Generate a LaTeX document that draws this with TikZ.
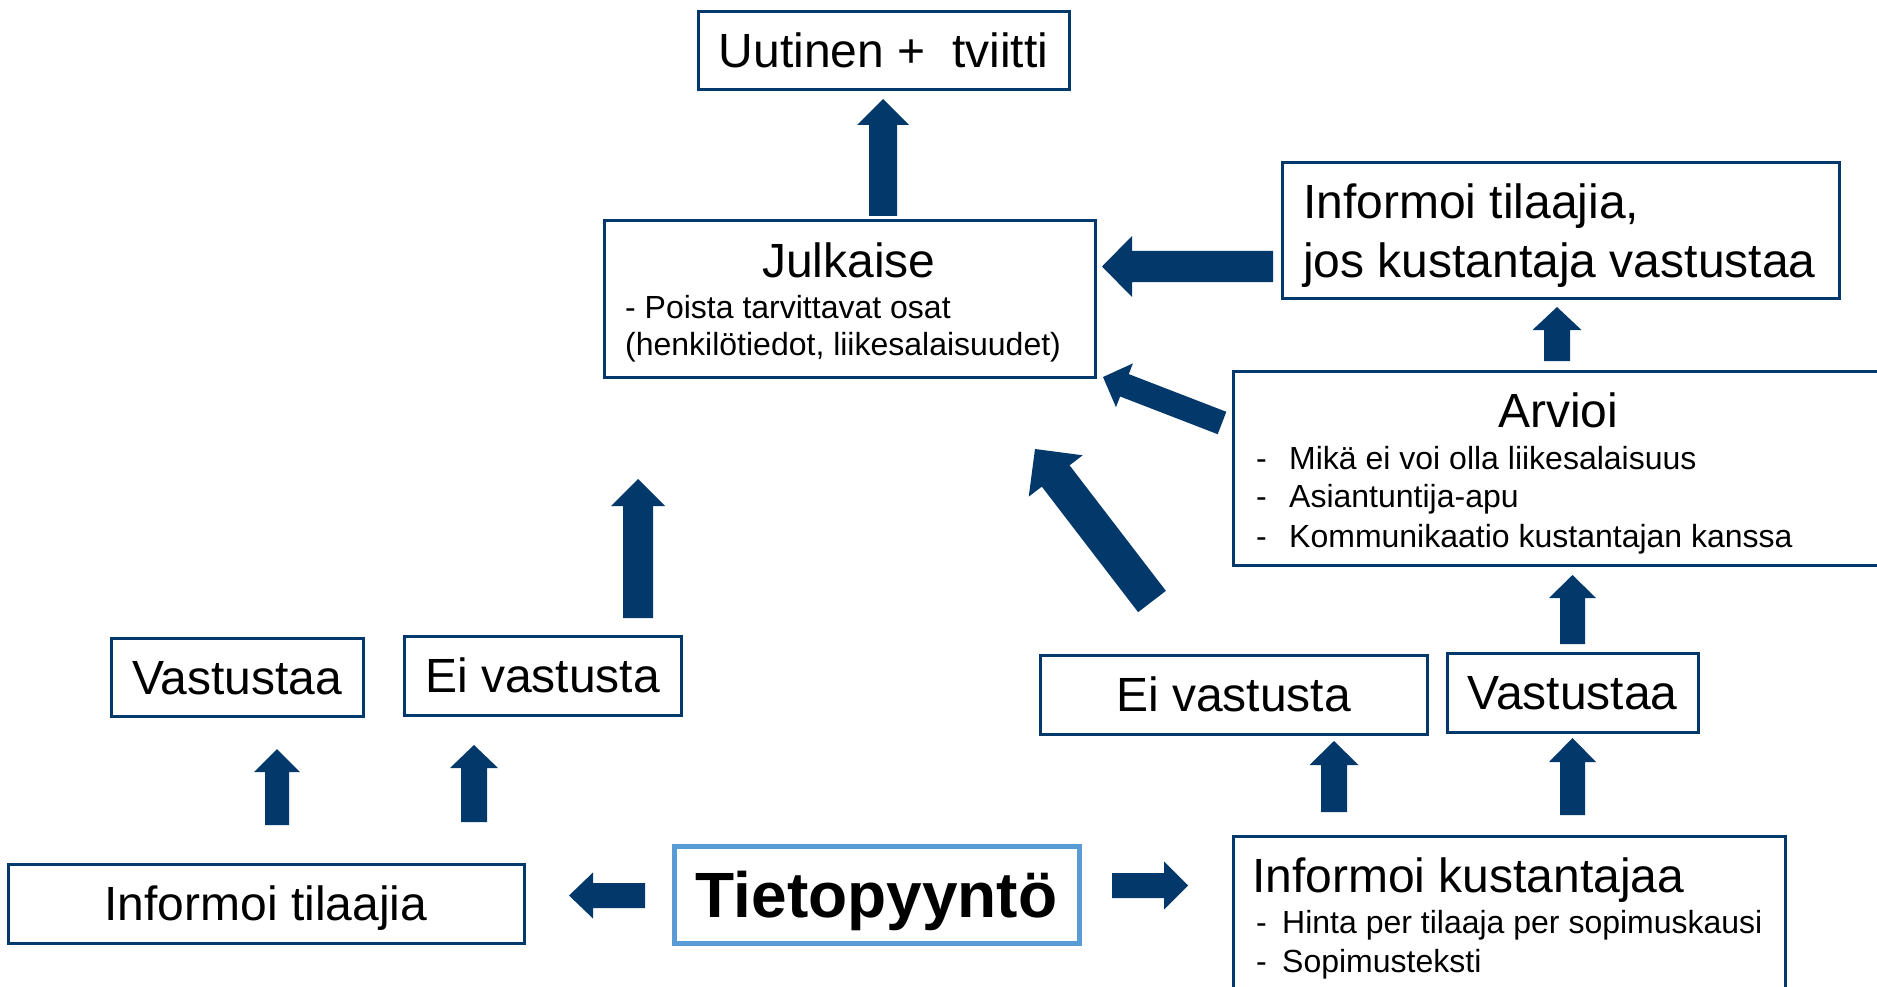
\documentclass[tikz,border=0pt]{standalone}
\usepackage{fontspec}
\setmainfont{Liberation Sans}
\usetikzlibrary{calc}
\definecolor{navy}{RGB}{3,56,106}
\definecolor{lblue}{RGB}{91,155,213}
\newcommand\bigf{\fontsize{48}{57}\selectfont}
\newcommand\smallf{\fontsize{32}{37}\selectfont}
\newcommand\tietf{\fontsize{64}{70}\selectfont\bfseries}
% #1 tail coordinate, #2 tip coordinate, #3 half shaft width, #4 half head width, #5 head length
\newcommand\blockarrow[5]{%
  \coordinate (ba-h) at ($(#2)!#5!(#1)$);
  \fill[navy] ($(#1)!#3!90:(#2)$) -- ($(ba-h)!#3!90:(#2)$) -- ($(ba-h)!#4!90:(#2)$) -- (#2)
    -- ($(ba-h)!#4!-90:(#2)$) -- ($(ba-h)!#3!-90:(#2)$) -- ($(#1)!#3!-90:(#2)$) -- cycle;
}
\begin{document}
\begin{tikzpicture}[x=1pt,y=-1pt,
  box/.style={draw=navy, line width=3pt, fill=white, inner sep=0pt},
  lbl/.style={box, font=\bigf, text height=34pt, text depth=0pt},
  txt/.style={inner sep=0pt},
  bigtxt/.style={txt, font=\bigf},
  smtxt/.style={txt, font=\smallf}]
\useasboundingbox (0,0) rectangle (1877,987);
\clip (0,0) rectangle (1877,987);

% boxes
\node[lbl, minimum width=371pt, minimum height=78pt] (uut) at (883.5,51) {Uutinen +\ \ tviitti};
\node[box, minimum width=491pt, minimum height=156pt] (julk) at (849.5,299) {};
\node[bigtxt, anchor=base] (julkt) at (849,277) {Julkaise};
\node[smtxt, anchor=base west] (julk1) at (625,318) {- Poista tarvittavat osat};
\node[smtxt, anchor=base west] (julk2) at (625,355) {(henkilötiedot, liikesalaisuudet)};

\node[box, minimum width=557pt, minimum height=135pt] (infj) at (1560.5,230.5) {};
\node[bigtxt, anchor=base west] (infj1) at (1303,219) {Informoi tilaajia,};
\node[bigtxt, anchor=base west] (infj2) at (1303,277) {jos kustantaja vastustaa};

\node[box, minimum width=667pt, minimum height=194pt] (arv) at (1566.5,468) {};
\node[bigtxt, anchor=base] (arvt) at (1558,427) {Arvioi};
\node[smtxt, anchor=base west] (arvd1) at (1256,469) {-};
\node[smtxt, anchor=base west] (arv1) at (1289,469) {Mikä ei voi olla liikesalaisuus};
\node[smtxt, anchor=base west] (arvd2) at (1256,507) {-};
\node[smtxt, anchor=base west] (arv2) at (1289,507) {Asiantuntija-apu};
\node[smtxt, anchor=base west] (arvd3) at (1256,547) {-};
\node[smtxt, anchor=base west] (arv3) at (1289,547) {Kommunikaatio kustantajan kanssa};

\node[lbl, minimum width=252pt, minimum height=78pt] (lv) at (237,677) {Vastustaa};
\node[lbl, minimum width=277pt, minimum height=79pt] (lev) at (542.5,675.5) {Ei vastusta};
\node[lbl, minimum width=516pt, minimum height=79pt] (lit) at (266,903.5) {Informoi tilaajia};

\node[box, draw=lblue, line width=5pt, minimum width=405pt, minimum height=97pt,
      font=\tietf, text height=46pt, text depth=0pt] (tiet) at (876.5,894.5) {Tietopyyntö};

\node[box, minimum width=552pt, minimum height=164pt] (ikus) at (1509,918) {};
\node[bigtxt, anchor=base west] (ikust) at (1252,892) {Informoi kustantajaa};
\node[smtxt, anchor=base west] (ikusd1) at (1256,933) {-};
\node[smtxt, anchor=base west] (ikus1) at (1282,933) {Hinta per tilaaja per sopimuskausi};
\node[smtxt, anchor=base west] (ikusd2) at (1256,972) {-};
\node[smtxt, anchor=base west] (ikus2) at (1282,972) {Sopimusteksti};

\node[lbl, minimum width=387pt, minimum height=79pt] (rev) at (1233.5,694.5) {Ei vastusta};
\node[lbl, minimum width=251pt, minimum height=79pt] (rv) at (1572.5,692.5) {Vastustaa};

% arrow end points
\coordinate (a1s) at (883,216);    \coordinate (a1e) at (883,99);
\coordinate (a2s) at (1273,266.5); \coordinate (a2e) at (1102,266.5);
\coordinate (a3s) at (1557,361);   \coordinate (a3e) at (1557,307);
\coordinate (a4s) at (1222,423);   \coordinate (a4e) at (1103,377);
\coordinate (a5s) at (1152,601.5); \coordinate (a5e) at (1035,449);
\coordinate (a6s) at (1572.5,644); \coordinate (a6e) at (1572.5,575);
\coordinate (a7s) at (1334,812);   \coordinate (a7e) at (1334,741);
\coordinate (a8s) at (1572.5,815); \coordinate (a8e) at (1572.5,738);
\coordinate (a9s) at (638,618);    \coordinate (a9e) at (638,479);
\coordinate (a10s) at (277,825);   \coordinate (a10e) at (277,749);
\coordinate (a11s) at (474,822);   \coordinate (a11e) at (474,745);
\coordinate (a12s) at (645,895.5); \coordinate (a12e) at (569,895.5);
\coordinate (a13s) at (1112,885.5); \coordinate (a13e) at (1188,885.5);

\blockarrow{a1s}{a1e}{14pt}{26pt}{26pt}
\blockarrow{a2s}{a2e}{15.5pt}{30.5pt}{30pt}
\blockarrow{a3s}{a3e}{13pt}{24.5pt}{23pt}
\blockarrow{a4s}{a4e}{12pt}{23.5pt}{23pt}
\blockarrow{a5s}{a5e}{17.5pt}{34pt}{34pt}
\blockarrow{a6s}{a6e}{12.5pt}{23.5pt}{23pt}
\blockarrow{a7s}{a7e}{13pt}{24.5pt}{24pt}
\blockarrow{a8s}{a8e}{12.5pt}{23.5pt}{24pt}
\blockarrow{a9s}{a9e}{15pt}{27pt}{27pt}
\blockarrow{a10s}{a10e}{12pt}{23pt}{23pt}
\blockarrow{a11s}{a11e}{13pt}{24pt}{23pt}
\blockarrow{a12s}{a12e}{12.5pt}{23pt}{24pt}
\blockarrow{a13s}{a13e}{12.5pt}{24pt}{24pt}
\end{tikzpicture}
\end{document}
